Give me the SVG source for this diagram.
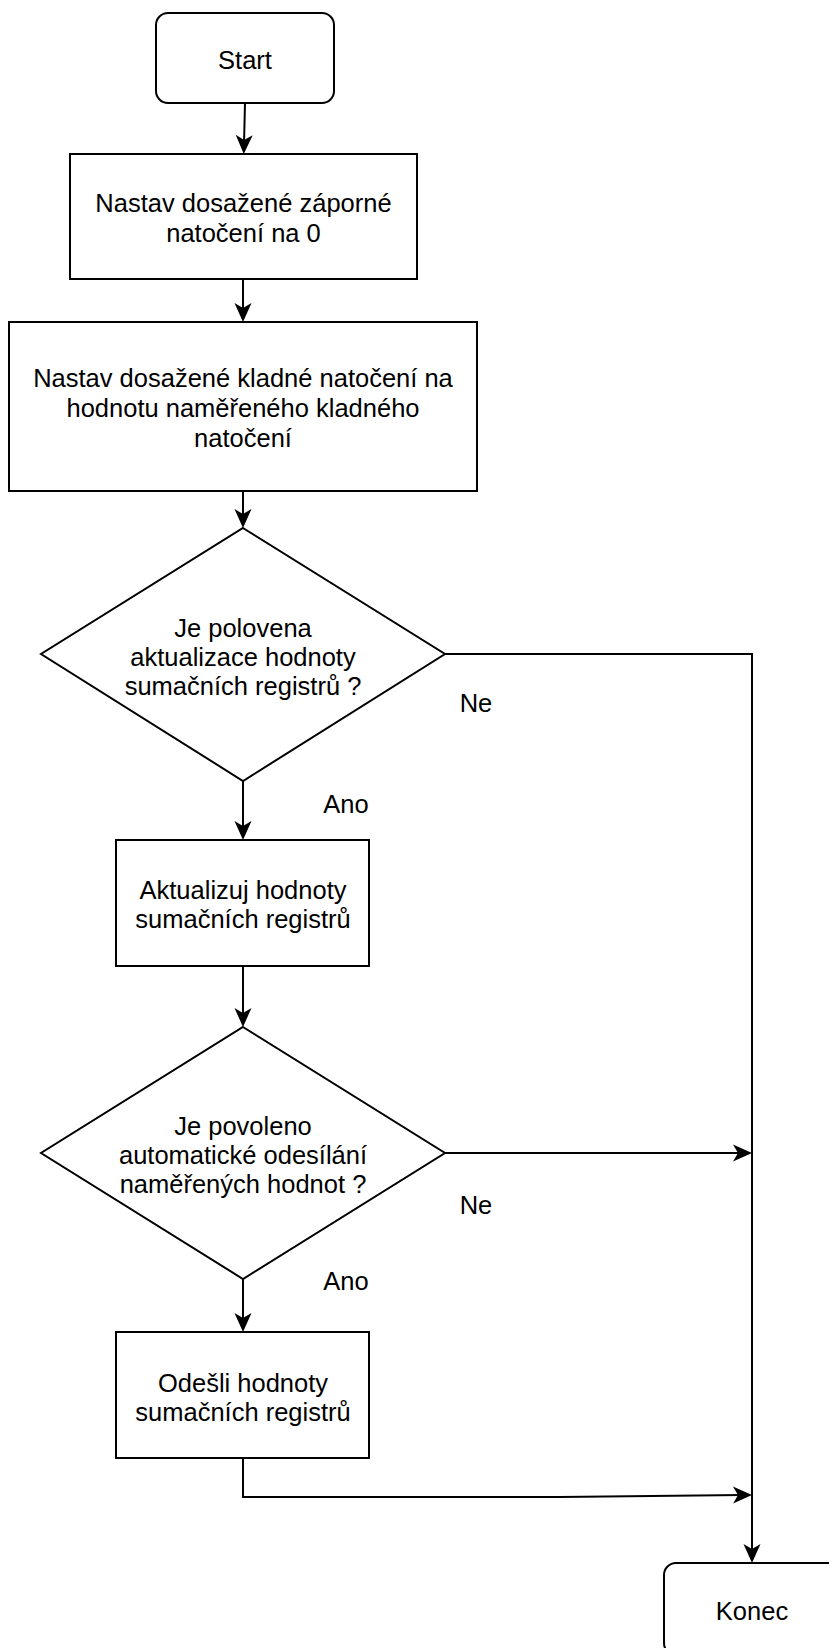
<svg xmlns="http://www.w3.org/2000/svg" width="829" height="1648" viewBox="0 0 829 1648">
  <style>
    .shape { fill: #ffffff; stroke: #000000; stroke-width: 2; }
    .edge { fill: none; stroke: #000000; stroke-width: 2; }
    .label { font-family: "Liberation Sans", Arial, sans-serif; font-size: 25.5px; fill: #000000; text-anchor: middle; dominant-baseline: central; }
  </style>
  <defs>
    <!-- classic notched arrowhead; tip sits 10px beyond the path end -->
    <marker id="arrow" markerUnits="userSpaceOnUse" markerWidth="40" markerHeight="40" refX="0" refY="0" orient="auto" overflow="visible">
      <path d="M -9 -8.5 L 10 0 L -9 8.5 L -4 0 Z" fill="#000000" stroke="none"/>
    </marker>
  </defs>

  <rect width="829" height="1648" fill="#ffffff"/>

  <g id="connectors">
    <path class="edge" d="M 245 103 L 244 144" marker-end="url(#arrow)"/>
    <path class="edge" d="M 243 279 L 243 312" marker-end="url(#arrow)"/>
    <path class="edge" d="M 243 491 L 243 518" marker-end="url(#arrow)"/>
    <path class="edge" d="M 243 781 L 243 830" marker-end="url(#arrow)"/>
    <path class="edge" d="M 243 966 L 243 1017" marker-end="url(#arrow)"/>
    <path class="edge" d="M 243 1279 L 243 1322" marker-end="url(#arrow)"/>
    <path class="edge" d="M 444 654 L 752 654 L 752 1553" marker-end="url(#arrow)"/>
    <path class="edge" d="M 444 1153 L 742 1153" marker-end="url(#arrow)"/>
    <path class="edge" d="M 243 1458 L 243 1497 L 560 1497 L 742 1495" marker-end="url(#arrow)"/>
    <text class="label" x="476" y="703">Ne</text>
    <text class="label" x="346" y="804">Ano</text>
    <text class="label" x="476" y="1205">Ne</text>
    <text class="label" x="346" y="1281">Ano</text>
  </g>

  <g id="start">
    <rect class="shape" x="156" y="13" width="178" height="90" rx="12" ry="12"/>
    <text class="label" x="245" y="60">Start</text>
  </g>

  <g id="reset-negative">
    <rect class="shape" x="70" y="154" width="347" height="125"/>
    <text class="label" x="243.5" y="203">Nastav dosažené záporné</text>
    <text class="label" x="243.5" y="233">natočení na 0</text>
  </g>

  <g id="set-positive">
    <rect class="shape" x="9" y="322" width="468" height="169"/>
    <text class="label" x="243" y="378">Nastav dosažené kladné natočení na</text>
    <text class="label" x="243" y="408">hodnotu naměřeného kladného</text>
    <text class="label" x="243" y="438">natočení</text>
  </g>

  <g id="decision-update">
    <polygon class="shape" points="243,528 445,654 243,781 41,654"/>
    <text class="label" x="243" y="628">Je polovena</text>
    <text class="label" x="243" y="657">aktualizace hodnoty</text>
    <text class="label" x="243" y="686">sumačních registrů ?</text>
  </g>

  <g id="update-registers">
    <rect class="shape" x="116" y="840" width="253" height="126"/>
    <text class="label" x="243" y="890">Aktualizuj hodnoty</text>
    <text class="label" x="243" y="919">sumačních registrů</text>
  </g>

  <g id="decision-send">
    <polygon class="shape" points="243,1027 445,1153 243,1279 41,1153"/>
    <text class="label" x="243" y="1126">Je povoleno</text>
    <text class="label" x="243" y="1155">automatické odesílání</text>
    <text class="label" x="243" y="1184">naměřených hodnot ?</text>
  </g>

  <g id="send-registers">
    <rect class="shape" x="116" y="1332" width="253" height="126"/>
    <text class="label" x="243" y="1383">Odešli hodnoty</text>
    <text class="label" x="243" y="1412">sumačních registrů</text>
  </g>

  <g id="end">
    <rect class="shape" x="664" y="1563" width="176" height="92" rx="12" ry="12"/>
    <text class="label" x="752" y="1611">Konec</text>
  </g>
</svg>
